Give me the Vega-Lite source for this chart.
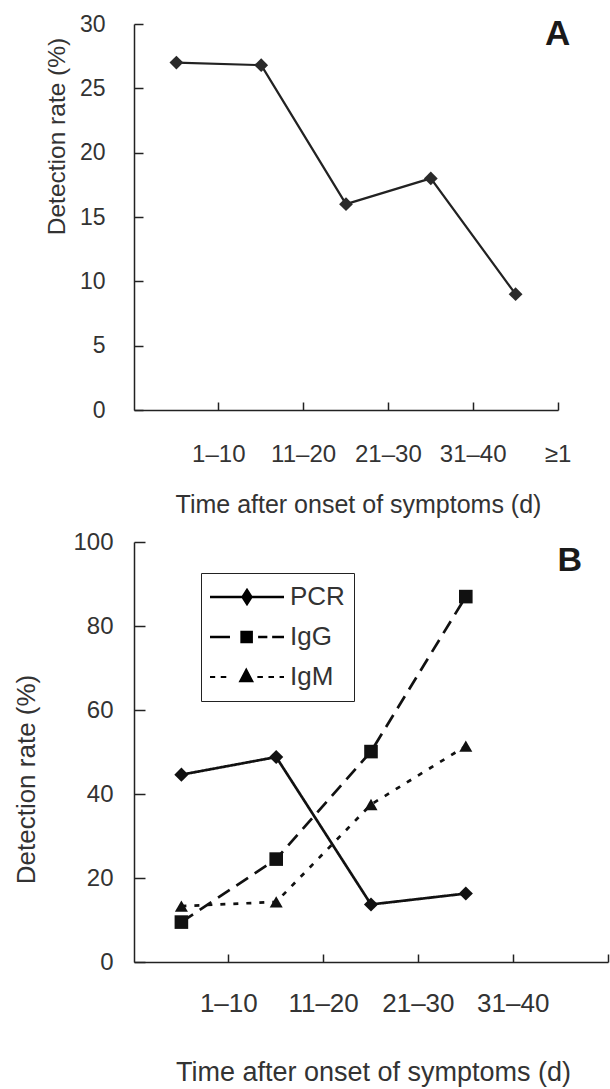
{
  "$schema": "https://vega.github.io/schema/vega-lite/v6.json",
  "autosize": {"type": "pad"},
  "padding": {"left": 13, "top": 13, "right": 2, "bottom": 3},
  "spacing": 132,
  "bounds": "flush",
  "config": {
    "view": {"stroke": null},
    "font": "Liberation Sans",
    "axis": {
      "grid": false,
      "domainColor": "#222",
      "domainWidth": 1.5,
      "tickColor": "#222",
      "tickWidth": 1.5,
      "labelColor": "#333",
      "titleColor": "#333",
      "labelFont": "Liberation Sans",
      "titleFont": "Liberation Sans",
      "titleFontWeight": "normal",
      "labelAngle": 0
    }
  },
  "datasets": {
    "a": [
      {"period": "1–10", "rate": 27.0},
      {"period": "11–20", "rate": 26.8},
      {"period": "21–30", "rate": 16.0},
      {"period": "31–40", "rate": 18.0},
      {"period": "≥1", "rate": 9.0}
    ],
    "b": [
      {"period": "1–10", "test": "PCR", "rate": 44.6},
      {"period": "11–20", "test": "PCR", "rate": 48.8},
      {"period": "21–30", "test": "PCR", "rate": 13.7},
      {"period": "31–40", "test": "PCR", "rate": 16.3},
      {"period": "1–10", "test": "IgG", "rate": 9.5},
      {"period": "11–20", "test": "IgG", "rate": 24.5},
      {"period": "21–30", "test": "IgG", "rate": 50.1},
      {"period": "31–40", "test": "IgG", "rate": 87.0},
      {"period": "1–10", "test": "IgM", "rate": 13.3},
      {"period": "11–20", "test": "IgM", "rate": 14.3},
      {"period": "21–30", "test": "IgM", "rate": 37.5},
      {"period": "31–40", "test": "IgM", "rate": 51.4}
    ]
  },
  "vconcat": [
    {
      "width": 424,
      "height": 386,
      "data": {"name": "a"},
      "encoding": {
        "x": {
          "field": "period",
          "type": "nominal",
          "sort": null,
          "scale": {
            "type": "band",
            "domain": ["1–10", "11–20", "21–30", "31–40", "≥1"],
            "paddingInner": 0,
            "paddingOuter": 0
          },
          "axis": {
            "bandPosition": 1,
            "tickSize": -8,
            "labelOffset": 42.4,
            "labelPadding": 40,
            "labelFontSize": 24,
            "labelBaseline": "top",
            "title": "Time after onset of symptoms (d)",
            "titleFontSize": 25,
            "titleX": 224,
            "titleY": 94,
            "titleBaseline": "middle"
          }
        },
        "y": {
          "field": "rate",
          "type": "quantitative",
          "scale": {"domain": [0, 30]},
          "axis": {
            "values": [0, 5, 10, 15, 20, 25, 30],
            "tickSize": -9,
            "labelPadding": 38,
            "labelFontSize": 23,
            "title": "Detection rate (%)",
            "titleFontSize": 24.5,
            "titleX": -77,
            "titleY": 112,
            "titleBaseline": "middle"
          }
        }
      },
      "layer": [
        {"mark": {"type": "line", "color": "#222", "strokeWidth": 2.2}},
        {
          "mark": {
            "type": "point",
            "shape": "diamond",
            "filled": true,
            "size": 190,
            "color": "#2a2a2a",
            "opacity": 1
          }
        },
        {
          "transform": [{"filter": "datum.period === '≥1'"}],
          "mark": {
            "type": "text",
            "text": "A",
            "fontSize": 35,
            "fontWeight": "bold",
            "color": "#1a1a1a",
            "dx": 42
          },
          "encoding": {
            "y": {"datum": 29.2}
          }
        }
      ]
    },
    {
      "width": 474,
      "height": 420,
      "data": {"name": "b"},
      "encoding": {
        "x": {
          "field": "period",
          "type": "nominal",
          "sort": null,
          "scale": {
            "type": "band",
            "domain": ["1–10", "11–20", "21–30", "31–40", " "],
            "paddingInner": 0,
            "paddingOuter": 0
          },
          "axis": {
            "bandPosition": 1,
            "tickSize": -8,
            "labelOffset": 47.4,
            "labelPadding": 36,
            "labelFontSize": 26,
            "labelBaseline": "top",
            "title": "Time after onset of symptoms (d)",
            "titleFontSize": 27,
            "titleX": 239,
            "titleY": 110,
            "titleBaseline": "middle"
          }
        },
        "y": {
          "field": "rate",
          "type": "quantitative",
          "scale": {"domain": [0, 100]},
          "axis": {
            "values": [0, 20, 40, 60, 80, 100],
            "tickSize": -11,
            "labelPadding": 32,
            "labelFontSize": 24,
            "title": "Detection rate (%)",
            "titleFontSize": 26,
            "titleX": -108,
            "titleY": 237,
            "titleBaseline": "middle"
          }
        }
      },
      "layer": [
        {
          "mark": {"type": "line", "color": "#111", "strokeWidth": 2.7},
          "encoding": {
            "strokeDash": {
              "field": "test",
              "type": "nominal",
              "scale": {
                "domain": ["PCR", "IgG", "IgM"],
                "range": [[1, 0], [14, 8], [5, 8]]
              },
              "legend": null
            }
          }
        },
        {
          "mark": {"type": "point", "filled": true, "color": "#111", "opacity": 1},
          "encoding": {
            "shape": {
              "field": "test",
              "type": "nominal",
              "scale": {
                "domain": ["PCR", "IgG", "IgM"],
                "range": ["diamond", "square", "triangle-up"]
              },
              "legend": null
            },
            "size": {
              "field": "test",
              "type": "nominal",
              "scale": {
                "domain": ["PCR", "IgG", "IgM"],
                "range": [200, 170, 256]
              },
              "legend": null
            }
          }
        },
        {
          "transform": [{"filter": "false"}],
          "mark": {"type": "point", "filled": true, "color": "black", "opacity": 1},
          "encoding": {
            "shape": {
              "field": "test",
              "type": "nominal",
              "scale": {
                "domain": ["PCR", "IgG", "IgM"],
                "range": [
                  "M-1,-0.036H1V0.036H-1ZM0,-0.25L0.16,0L0,0.25L-0.16,0Z",
                  "M-1,-0.036H-0.46V0.036H-1ZM0.3,-0.036H0.55V0.036H0.3ZM0.68,-0.036H1V0.036H0.68ZM-0.18,-0.17H0.16V0.17H-0.18Z",
                  "M-1,-0.03H-0.86V0.03H-1ZM-0.71,-0.03H-0.56V0.03H-0.71ZM0.28,-0.03H0.43V0.03H0.28ZM0.58,-0.03H0.73V0.03H0.58ZM0.88,-0.03H1V0.03H0.88ZM-0.02,-0.26L0.19,0.14L-0.23,0.14Z"
                ]
              },
              "legend": {
                "title": null,
                "orient": "none",
                "legendX": 67,
                "legendY": 31,
                "symbolSize": 5476,
                "symbolStrokeWidth": 0,
                "symbolFillColor": "black",
                "labelFontSize": 26,
                "labelFont": "Liberation Sans",
                "labelColor": "#333",
                "labelOffset": 6,
                "clipHeight": 30,
                "rowPadding": 10,
                "padding": 9,
                "strokeColor": "#222"
              }
            }
          }
        },
        {
          "transform": [{"filter": "datum.period === '31–40' && datum.test === 'IgG'"}],
          "mark": {
            "type": "text",
            "text": "B",
            "fontSize": 34,
            "fontWeight": "bold",
            "color": "#1a1a1a",
            "dx": 104
          },
          "encoding": {
            "y": {"datum": 95.5}
          }
        }
      ],
      "resolve": {"scale": {"shape": "independent"}, "legend": {"shape": "independent"}}
    }
  ]
}
